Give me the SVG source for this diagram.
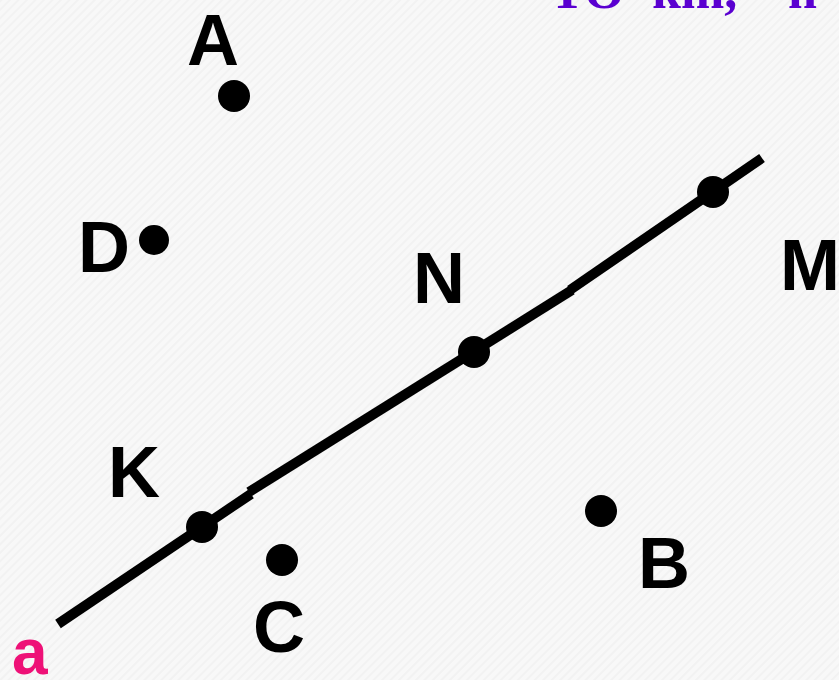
<svg xmlns="http://www.w3.org/2000/svg" width="839" height="680" viewBox="0 0 839 680">
<defs>
<pattern id="tex" width="6" height="6" patternUnits="userSpaceOnUse" patternTransform="rotate(-45)">
<rect width="6" height="6" fill="#f8f8f8"/>
<rect width="6" height="2" fill="#f2f2f2"/>
</pattern>
<style>
.lbl{font-family:"Liberation Sans",Arial,sans-serif;font-weight:bold;font-size:72px;fill:#000}
.dot{fill:#000}
.ln{stroke:#000;stroke-width:10;fill:none}
</style>
</defs>
<rect width="839" height="680" fill="url(#tex)"/>
<text y="8" font-family="Liberation Serif,serif" font-weight="bold" font-size="52" fill="#5a00d0"><tspan x="550">ТО</tspan><tspan x="652">km,</tspan><tspan x="788">n</tspan></text>
<g id="connectors">
<line class="ln" x1="58" y1="624" x2="251" y2="494"/>
<line class="ln" x1="249" y1="492" x2="572" y2="290"/>
<line class="ln" x1="570" y1="290" x2="762" y2="158"/>
</g>
<g id="A"><circle class="dot" cx="234" cy="96" r="16"/><text class="lbl" x="187" y="65">A</text></g>
<g id="D"><circle class="dot" cx="154" cy="240" r="15"/><text class="lbl" x="78" y="272">D</text></g>
<g id="N"><circle class="dot" cx="474" cy="352" r="16"/><text class="lbl" x="413" y="303">N</text></g>
<g id="M"><circle class="dot" cx="713" cy="192" r="16"/><text class="lbl" x="780" y="290">M</text></g>
<g id="K"><circle class="dot" cx="202" cy="527" r="16"/><text class="lbl" x="108" y="497">K</text></g>
<g id="C"><circle class="dot" cx="282" cy="560" r="16"/><text class="lbl" x="253" y="652">C</text></g>
<g id="B"><circle class="dot" cx="601" cy="511" r="16"/><text class="lbl" x="638" y="588">B</text></g>
<g id="a"><text x="12" y="674" font-family="Liberation Sans,Arial,sans-serif" font-weight="bold" font-size="64" fill="#ee1177">a</text></g>
</svg>
